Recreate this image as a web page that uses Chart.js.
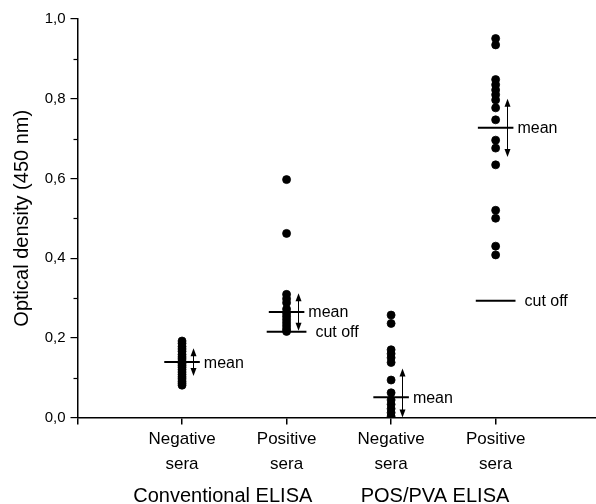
<!DOCTYPE html>
<html><head><meta charset="utf-8">
<script src="https://cdn.jsdelivr.net/npm/chart.js@4.4.0/dist/chart.umd.min.js"></script>
<style>html,body{margin:0;padding:0;background:#fff}#wrap{width:596px;height:504px}</style>
</head><body><div id="wrap"><canvas id="c" width="596" height="504"></canvas></div>
<script>
// ---- data ----
const categories = [['Negative','sera'],['Positive','sera'],['Negative','sera'],['Positive','sera']];
const groupLabels = ['Conventional ELISA','POS/PVA ELISA'];
const yTickLabels = ['0,0','0,2','0,4','0,6','0,8','1,0'];
const convNeg = [0.192,0.186,0.178,0.172,0.166,0.158,0.152,0.147,0.141,0.136,0.131,0.126,0.120,0.114,0.108,0.102,0.097,0.091,0.086,0.081];
const convPos = [0.597,0.462,0.309,0.298,0.288,0.272,0.262,0.254,0.246,0.238,0.230,0.222,0.216];
const pvaNeg  = [0.257,0.236,0.170,0.160,0.150,0.138,0.094,0.062,0.044,0.033,0.022,0.012,0.003];
const pvaPos  = [0.951,0.935,0.848,0.835,0.822,0.810,0.797,0.777,0.747,0.696,0.676,0.634,0.520,0.500,0.430,0.408];
const meanValues = [0.139,0.265,0.051,0.727];
const sdLow  = [0.104,0.218,0.000,0.654];
const sdHigh = [0.174,0.312,0.123,0.800];
const cutoffValues = [null,0.215,null,0.293];

// ---- chart ----
const FONT = "'Liberation Sans', Arial, Helvetica, sans-serif";
const series = [convNeg, convPos, pvaNeg, pvaPos];
const MEAN_HALF = 0.17, CUT_HALF = 0.19, ARROW_DX = 0.105;

const datasets = [];
series.forEach((vals, i) => datasets.push({
  type: 'scatter',
  data: vals.map(v => ({x: i + 1, y: v})),
  pointRadius: 4, pointHoverRadius: 4,
  pointBackgroundColor: '#000', pointBorderColor: '#000', pointBorderWidth: 0.8,
  showLine: false
}));
meanValues.forEach((m, i) => datasets.push({
  type: 'line',
  data: [{x: i + 1 - MEAN_HALF, y: m}, {x: i + 1 + MEAN_HALF, y: m}],
  borderColor: '#000', borderWidth: 2, pointRadius: 0, fill: false
}));
cutoffValues.forEach((c, i) => { if (c !== null) datasets.push({
  type: 'line',
  data: [{x: i + 1 - CUT_HALF, y: c}, {x: i + 1 + CUT_HALF, y: c}],
  borderColor: '#000', borderWidth: 2, pointRadius: 0, fill: false
}); });

const annot = {
  id: 'annot',
  afterDatasetsDraw(chart) {
    const {ctx, scales: {x, y}} = chart;
    ctx.save();
    ctx.fillStyle = '#000'; ctx.strokeStyle = '#000';
    const head = (px, py, dir) => {
      ctx.beginPath();
      ctx.moveTo(px, py);
      ctx.lineTo(px - 3, py - dir * 8);
      ctx.lineTo(px + 3, py - dir * 8);
      ctx.closePath(); ctx.fill();
    };
    ctx.font = '16px ' + FONT;
    ctx.textBaseline = 'middle'; ctx.textAlign = 'left';
    meanValues.forEach((m, i) => {
      const ax = Math.round(x.getPixelForValue(i + 1 + ARROW_DX)) + 0.5;
      const yl = y.getPixelForValue(sdLow[i]);
      const yh = y.getPixelForValue(sdHigh[i]);
      ctx.lineWidth = 1;
      ctx.beginPath(); ctx.moveTo(ax, yh + 4); ctx.lineTo(ax, yl - 4); ctx.stroke();
      head(ax, yh, -1); head(ax, yl, 1);
      ctx.fillText('mean', x.getPixelForValue(i + 1 + MEAN_HALF) + 4, y.getPixelForValue(m) + 1);
    });
    cutoffValues.forEach((c, i) => {
      if (c === null) return;
      ctx.fillText('cut off', x.getPixelForValue(i + 1 + CUT_HALF) + 9, y.getPixelForValue(c) + 1);
    });
    ctx.lineWidth = 1.2;
    [0.1, 0.3, 0.5, 0.7, 0.9].forEach(v => {
      const py = Math.round(y.getPixelForValue(v)) + 0.5;
      ctx.beginPath(); ctx.moveTo(chart.chartArea.left - 4, py); ctx.lineTo(chart.chartArea.left, py); ctx.stroke();
    });
    ctx.restore();
  }
};

new Chart(document.getElementById('c'), {
  type: 'scatter',
  data: {datasets},
  plugins: [annot],
  options: {
    responsive: false, animation: false, devicePixelRatio: 1,
    layout: {autoPadding: false, padding: {top: 19, right: 0, bottom: 0, left: 0}},
    plugins: {legend: {display: false}, tooltip: {enabled: false}},
    scales: {
      x: {
        type: 'linear', position: 'bottom', min: 0, max: 4.96,
        afterBuildTicks: s => { s.ticks = [0, 1, 2, 3, 4].map(v => ({value: v})); },
        afterFit: s => { s.height = 58; },
        grid: {display: true, drawOnChartArea: false, tickLength: 7, color: '#000', lineWidth: 1.5},
        border: {display: true, color: '#000', width: 1.5},
        ticks: {
          autoSkip: false, maxRotation: 0, color: '#000', padding: 2,
          font: {family: FONT, size: 17, lineHeight: 1.47},
          callback: v => (v >= 1 && v <= 4) ? categories[v - 1] : ''
        }
      },
      x2: {
        type: 'linear', position: 'bottom', min: 0, max: 4.96,
        afterBuildTicks: s => { s.ticks = [1.39, 3.42].map(v => ({value: v})); },
        afterFit: s => { s.height = 28.5; },
        grid: {display: false, drawTicks: false},
        border: {display: false},
        ticks: {
          autoSkip: false, maxRotation: 0, color: '#000', padding: 9,
          font: {family: FONT, size: 20},
          callback: (v, idx) => groupLabels[idx]
        }
      },
      y: {
        type: 'linear', min: 0, max: 1,
        afterBuildTicks: s => { s.ticks = [0, 0.2, 0.4, 0.6, 0.8, 1.0].map(v => ({value: v})); },
        afterFit: s => { s.width = 77.5; },
        grid: {display: true, drawOnChartArea: false, tickLength: 7, color: '#000', lineWidth: 1.2},
        border: {display: true, color: '#000', width: 1.5},
        ticks: {
          color: '#000', padding: 5,
          font: {family: FONT, size: 15},
          callback: (v, idx) => yTickLabels[idx]
        },
        title: {
          display: true, text: 'Optical density (450 nm)', color: '#000',
          font: {family: FONT, size: 20}, padding: {top: 10, bottom: 0}
        }
      }
    }
  }
});
</script></body></html>
